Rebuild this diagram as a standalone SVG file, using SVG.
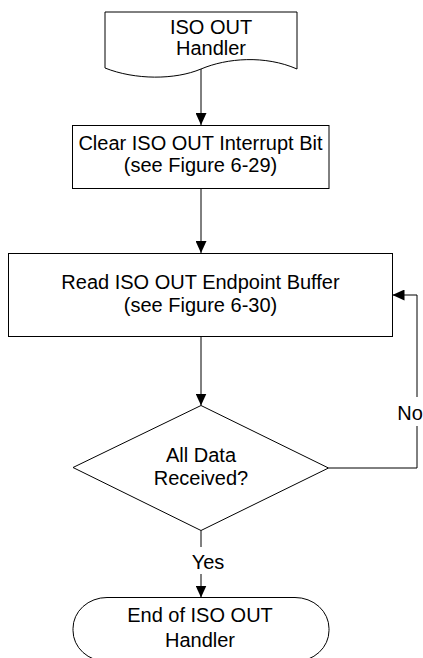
<svg xmlns="http://www.w3.org/2000/svg" width="423" height="658" viewBox="0 0 423 658">
  <style>
    .shape { fill: #ffffff; stroke: #000000; stroke-width: 1; }
    .label { font-family: "Liberation Sans", Arial, sans-serif; font-size: 20px; fill: #000000; text-anchor: middle; }
    .wire { fill: none; stroke: #000000; stroke-width: 1; marker-end: url(#arrow); }
    .gap { fill: #ffffff; stroke: none; }
  </style>
  <defs>
    <marker id="arrow" markerUnits="userSpaceOnUse" markerWidth="12" markerHeight="11" refX="12" refY="5.5" orient="auto">
      <path d="M0,0 L12,5.5 L0,11 Z" fill="#000000"/>
    </marker>
  </defs>
  <rect width="423" height="658" fill="#ffffff"/>

  <!-- connectors -->
  <g id="connectors">
    <path class="wire" d="M201,69 V125"/>
    <path class="wire" d="M201,189 V253"/>
    <path class="wire" d="M201,337 V405.5"/>
    <path class="wire" d="M201,530.5 V597.5"/>
    <path class="wire" d="M328.5,468 H417 V295 H392.5"/>
    <!-- label backing -->
    <rect class="gap" x="189" y="547" width="38" height="27"/>
    <rect class="gap" x="396" y="397" width="27" height="29"/>
    <text class="label" x="208" y="569">Yes</text>
    <text class="label" x="410" y="420">No</text>
  </g>

  <!-- start: document shape -->
  <g id="start">
    <path class="shape" d="M105,12 H297 V69 C265,55 227,58 201,69 C175,80 135,80 105,68 Z"/>
    <text class="label" x="211" y="33.5">ISO OUT</text>
    <text class="label" x="211" y="54.5">Handler</text>
  </g>

  <!-- clear interrupt bit -->
  <g id="clear-bit">
    <rect class="shape" x="72.5" y="125.5" width="256.5" height="63"/>
    <text class="label" x="200.5" y="150">Clear ISO OUT Interrupt Bit</text>
    <text class="label" x="200.5" y="172">(see Figure 6-29)</text>
  </g>

  <!-- read endpoint buffer -->
  <g id="read-buffer">
    <rect class="shape" x="8.5" y="253.5" width="384" height="83"/>
    <text class="label" x="200.5" y="289">Read ISO OUT Endpoint Buffer</text>
    <text class="label" x="200.5" y="312">(see Figure 6-30)</text>
  </g>

  <!-- decision -->
  <g id="all-received">
    <polygon class="shape" points="201,405.5 328.5,468 201,530.5 73,467.5"/>
    <text class="label" x="201" y="461.5">All Data</text>
    <text class="label" x="201" y="485">Received?</text>
  </g>

  <!-- end terminator -->
  <g id="end">
    <rect class="shape" x="73" y="597.5" width="256" height="64" rx="34" ry="31"/>
    <text class="label" x="200" y="621.5">End of ISO OUT</text>
    <text class="label" x="200" y="647">Handler</text>
  </g>
</svg>
